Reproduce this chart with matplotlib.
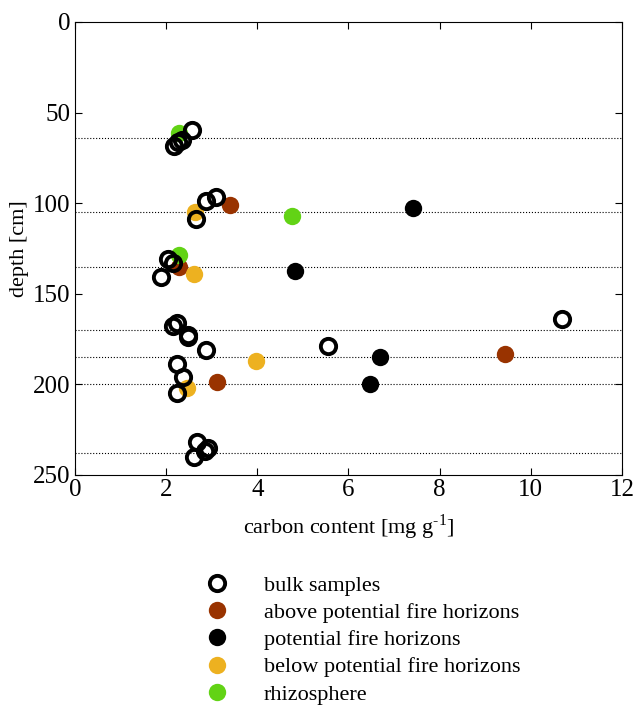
import matplotlib
matplotlib.use('Agg')
import matplotlib.pyplot as plt

plt.rcParams['font.family'] = ['Liberation Serif', 'DejaVu Serif']
plt.rcParams['mathtext.fontset'] = 'custom'
plt.rcParams['mathtext.rm'] = 'Liberation Serif'

# bulk samples (open circles)
bulk_x = [2.57, 2.35, 2.25, 2.17, 2.87, 3.09, 2.65, 2.04, 2.15, 1.89,
          2.23, 2.15, 2.48, 2.48, 2.87, 5.55, 10.68, 2.23, 2.37, 2.24,
          2.68, 2.92, 2.85, 2.61]
bulk_d = [59.6, 65, 66, 68.4, 98.8, 96.6, 109, 130.8, 133, 141,
          166, 168, 172.7, 174, 181, 179, 164, 189, 196, 204.8,
          232, 235, 237, 240]

above_x = [3.40, 2.28, 9.43, 3.11]
above_d = [101, 135, 183, 198.7]

fire_x = [7.41, 4.82, 6.69, 6.47]
fire_d = [102.6, 137.4, 185, 200]

below_x = [2.63, 2.61, 3.97, 2.46]
below_d = [104.9, 139, 187, 202]

rhizo_x = [2.28, 4.76, 2.28]
rhizo_d = [61, 107, 128.6]

horizons = [64, 105, 135, 170, 185, 200, 238]

fig = plt.figure(figsize=(6.33, 7.16), dpi=100)
ax = fig.add_axes([0.1185, 0.3366, 0.9826 - 0.1185, 0.9693 - 0.3366])

for h in horizons:
    ax.axhline(h, color='k', ls=':', lw=0.8, zorder=1)

ms = 12.5
ax.plot(above_x, above_d, 'o', color='#993300', ms=ms, mec='none', ls='none', zorder=3,
        label='above potential fire horizons')
ax.plot(fire_x, fire_d, 'o', color='k', ms=ms, mec='none', ls='none', zorder=3,
        label='potential fire horizons')
ax.plot(below_x, below_d, 'o', color='#EDB120', ms=ms, mec='none', ls='none', zorder=3,
        label='below potential fire horizons')
ax.plot(rhizo_x, rhizo_d, 'o', color='#62D315', ms=ms, mec='none', ls='none', zorder=3,
        label='rhizosphere')
ax.plot(bulk_x, bulk_d, 'o', mfc='none', mec='k', mew=2.8, ms=11, ls='none', zorder=4,
        label='bulk samples')

ax.set_xlim(0, 12)
ax.set_ylim(250, 0)
ax.set_xticks(range(0, 13, 2))
ax.set_yticks(range(0, 251, 50))
ax.tick_params(direction='in', top=True, right=True, labelsize=18, length=5, pad=3)
ax.set_xlabel('carbon content [mg g$^{\\mathregular{\u2010}1}$]', fontsize=16, labelpad=8)
ax.set_ylabel('depth [cm]', fontsize=16, labelpad=3)

handles, labels = ax.get_legend_handles_labels()
order = [4, 0, 1, 2, 3]
fig.legend([handles[i] for i in order], [labels[i] for i in order],
           loc='upper left', bbox_to_anchor=(0.311, 0.209), frameon=False,
           fontsize=16, handlelength=1.0, handletextpad=1.6, labelspacing=0.3,
           borderaxespad=0)

fig.savefig('out.png', dpi=100)
